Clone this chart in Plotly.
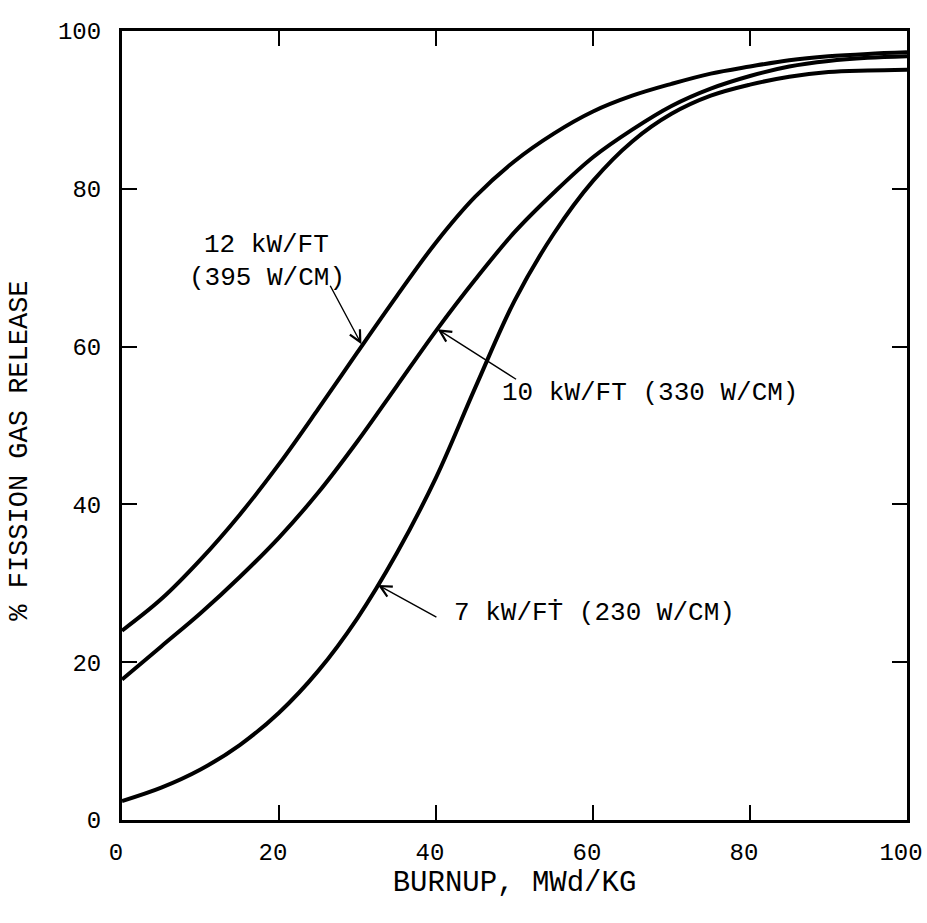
import plotly.graph_objects as go

burnup = [0, 5, 10, 15, 20, 25, 30, 35, 40, 45, 50, 55, 60, 65, 70, 75, 80, 85, 90, 95, 100]
release_12kw = [24, 28, 33, 38.7, 45.1, 52.1, 59.3, 66.4, 73.2, 79, 83.5, 87, 89.8, 91.8, 93.3, 94.6, 95.5, 96.3, 96.8, 97.1, 97.3]
release_10kw = [17.8, 22, 26.2, 30.8, 35.8, 41.5, 48, 55, 62, 68.5, 74.5, 79.5, 84, 87.5, 90.5, 92.7, 94.3, 95.5, 96.2, 96.6, 96.8]
release_7kw = [2.4, 4.1, 6.4, 9.5, 13.6, 18.9, 25.6, 33.8, 43.4, 54.8, 65.8, 74.3, 81, 86, 89.5, 91.8, 93.2, 94.2, 94.8, 95, 95.1]

tick_vals = [0, 20, 40, 60, 80, 100]
tick_text = ["0", "20", "40", "60", "80", "100"]

FONT = "Liberation Mono, Courier New, monospace"

fig = go.Figure()
for ys in (release_12kw, release_10kw, release_7kw):
    fig.add_trace(go.Scatter(x=burnup, y=ys, mode="lines",
                             line=dict(color="black", width=4, shape="spline", smoothing=1.0),
                             showlegend=False, hoverinfo="skip"))

axis_common = dict(range=[0, 100], showgrid=False, zeroline=False,
                   showline=True, linecolor="black", linewidth=3, mirror="ticks",
                   ticks="inside", ticklen=15, tickwidth=2, tickcolor="black",
                   tickvals=tick_vals, ticktext=tick_text,
                   tickfont=dict(family=FONT, size=24, color="black"))

fig.update_xaxes(**axis_common, ticklabelstandoff=8, ticklabelshift=-6,
                 title=dict(text="BURNUP, MWd/KG", font=dict(family=FONT, size=29, color="black"), standoff=0))
fig.update_yaxes(**axis_common, ticklabelstandoff=13)

# y-axis title (placed slightly below the plot centre, as in the original)
fig.add_annotation(xref="paper", yref="paper", x=-0.13, y=0.468, text="% FISSION GAS RELEASE",
                   textangle=-90, showarrow=False, xanchor="center", yanchor="middle",
                   font=dict(family=FONT, size=27, color="black"))

# arrows
arrows = [
    (30.5, 60.3, -32, -60),
    (40.2, 62.2, 80, 51),
    (32.6, 29.8, 60, 33),
]
for x, y, ax, ay in arrows:
    fig.add_annotation(x=x, y=y, ax=ax, ay=ay, axref="pixel", ayref="pixel",
                       text="", showarrow=True, arrowhead=5, arrowsize=1.6,
                       arrowwidth=1.4, arrowcolor="black", standoff=0, startstandoff=0)

labels = [
    (10.2, 72.9, "12 kW/FT"),
    (8.3, 68.7, "(395 W/CM)"),
    (48.2, 54.1, "10 kW/FT (330 W/CM)"),
    (42.0, 26.2, "7 kW/FṪ (230 W/CM)"),
]
for x, y, t in labels:
    fig.add_annotation(x=x, y=y, text=t, showarrow=False, xanchor="left", yanchor="middle",
                       font=dict(family=FONT, size=26, color="black"))

fig.update_layout(width=927, height=923, plot_bgcolor="white", paper_bgcolor="white",
                  margin=dict(l=122, r=20, t=31, b=103, autoexpand=False))

fig.write_html("out.html", config={"displayModeBar": False},
               post_script="document.body.style.margin='0';document.body.style.overflow='hidden';")
